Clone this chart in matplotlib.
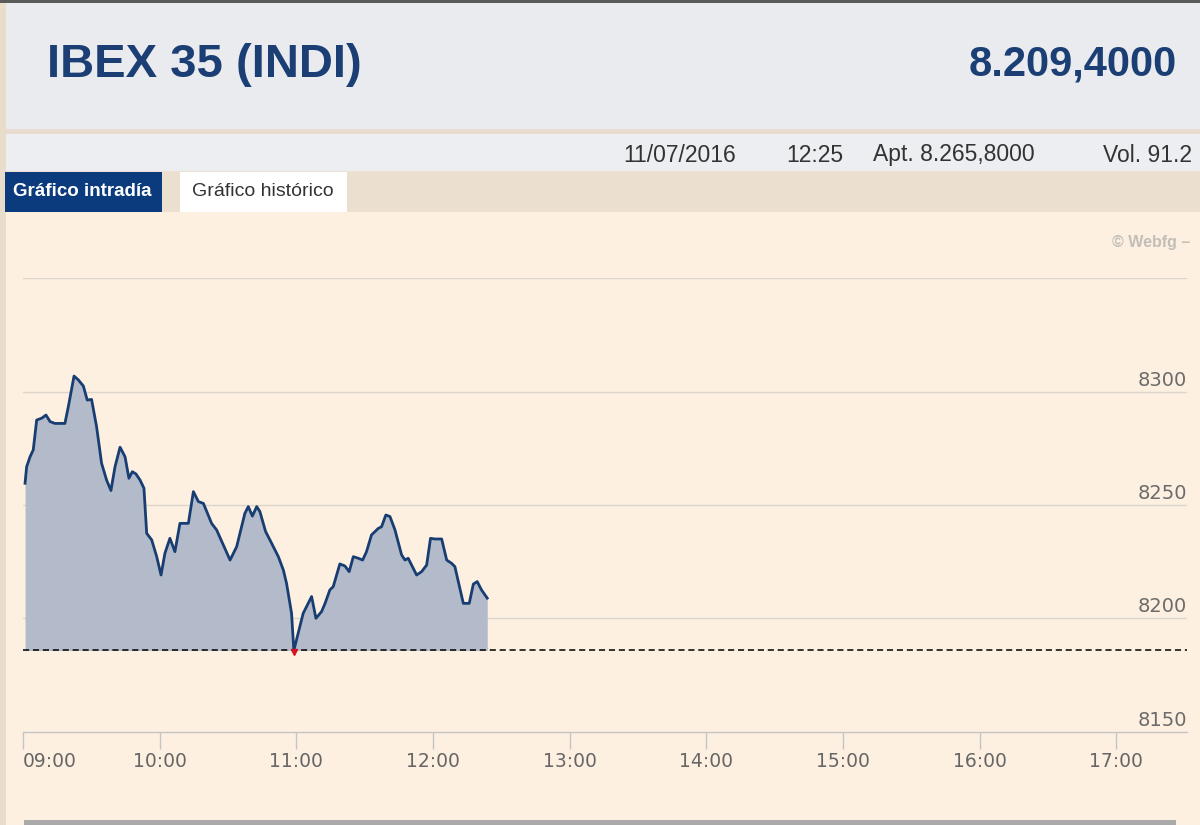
import matplotlib.pyplot as plt
from matplotlib.patches import Rectangle

# IBEX 35 intraday, 11/07/2016 -- minutes after 09:00 and index level
minutes = [0.9, 1.6, 3.1, 4.5, 6.0, 8.2, 10.1, 11.9, 14.0, 18.4,
           19.9, 22.4, 24.3, 26.5, 28.2, 30.1, 32.3, 34.5, 36.7, 38.6,
           40.4, 42.6, 44.8, 46.5, 48.0, 49.6, 51.4, 53.1, 54.3, 56.5,
           58.7, 60.6, 62.3, 64.5, 66.7, 68.9, 72.6, 74.8, 77.0, 79.2,
           82.8, 85.0, 90.9, 93.8, 97.4, 98.9, 100.7, 102.6, 104.0, 106.5,
           108.4, 112.1, 114.3, 115.7, 117.9, 118.9, 120.8, 123.0, 126.7, 128.6,
           131.1, 132.6, 134.7, 136.2, 139.1, 141.3, 143.2, 145.0, 147.2, 149.1,
           150.8, 153.0, 156.0, 157.4, 159.3, 161.1, 163.3, 166.2, 167.7, 169.1,
           172.8, 175.0, 177.2, 178.9, 180.8, 183.8, 186.0, 188.1, 189.6, 193.3,
           195.9, 197.7, 199.4, 201.3, 203.8]
prices = [8259.6, 8266.9, 8271.3, 8274.3, 8287.5, 8288.3, 8289.7, 8286.8, 8286.0, 8286.0,
          8293.4, 8306.9, 8305.2, 8302.5, 8296.3, 8296.6, 8284.6, 8268.4, 8261.0, 8256.4,
          8266.9, 8275.5, 8271.3, 8261.8, 8264.7, 8263.7, 8261.0, 8257.4, 8237.5, 8234.6,
          8227.2, 8219.1, 8228.7, 8235.3, 8229.4, 8241.9, 8241.9, 8255.9, 8251.5, 8250.7,
          8241.9, 8239.0, 8225.7, 8231.6, 8246.3, 8249.3, 8245.1, 8249.3, 8247.1, 8238.3,
          8234.6, 8227.2, 8221.3, 8215.4, 8202.2, 8185.8, 8193.4, 8202.2, 8209.6, 8200.0,
          8203.0, 8206.6, 8212.5, 8214.0, 8224.0, 8223.1, 8220.6, 8227.2, 8226.5, 8225.7,
          8229.4, 8236.8, 8239.7, 8240.4, 8245.6, 8244.9, 8239.0, 8228.0, 8225.7, 8226.5,
          8219.1, 8220.6, 8223.5, 8235.3, 8235.0, 8235.0, 8225.7, 8224.3, 8222.8, 8206.6,
          8206.6, 8215.1, 8216.2, 8212.5, 8208.9]

hour_ticks = [0, 60, 120, 180, 240, 300, 360, 420, 480]
hour_labels = ['09:00', '10:00', '11:00', '12:00', '13:00', '14:00', '15:00', '16:00', '17:00']
price_labels = [8150, 8200, 8250, 8300]
grid_levels = [8200, 8250, 8300, 8350]

title = 'IBEX 35 (INDI)'
last_price = '8.209,4000'
info = [('11/07/2016', 623), ('12:25', 786), ('Apt. 8.265,8000', 873), ('Vol. 91.2', 1103)]
tabs = ['Gráfico intradía', 'Gráfico histórico']

W, H = 1200, 825
NAVY = '#1b3e74'
SANS = ['Liberation Sans', 'DejaVu Sans']


def box(fig, x0, y0, x1, y1, color):
    # rectangle given in pixel coords, origin top-left
    fig.add_artist(Rectangle((x0 / W, 1 - y1 / H), (x1 - x0) / W, (y1 - y0) / H,
                             transform=fig.transFigure, facecolor=color,
                             edgecolor='none', zorder=0))


def label(fig, x, y, s, **kw):
    fig.text(x / W, 1 - y / H, s, va='center', **kw)


fig = plt.figure(figsize=(12, 8.25), dpi=100)
fig.patch.set_facecolor('#fdf0e0')

# page chrome
box(fig, 0, 0, 6, 825, '#e8dccb')
box(fig, 6, 3, 1200, 129, '#e9ebee')
box(fig, 6, 129, 1200, 134, '#e7dccf')
box(fig, 6, 134, 1200, 171, '#eceef1')
box(fig, 6, 171, 1200, 212, '#ebdfd0')
box(fig, 5, 172, 162, 212, '#0b3a7d')
box(fig, 180, 172, 347, 212, '#ffffff')
box(fig, 0, 0, 1200, 3, '#5a5a5a')
box(fig, 24, 820, 1176, 825, '#a9a9a9')

label(fig, 47, 65, title, fontsize=34, fontweight='bold', color=NAVY, family=SANS)
label(fig, 1177, 65, last_price, fontsize=30, fontweight='bold', color=NAVY,
      family=SANS, ha='right')
for s, x in info:
    label(fig, x, 155, s, fontsize=16.5, color='#333333', family=SANS)
label(fig, 13, 192, tabs[0], fontsize=13.5, fontweight='bold', color='white', family=SANS)
label(fig, 192, 192, tabs[1], fontsize=14, color='#333333', family=SANS)
label(fig, 1190, 243, '© Webfg –', fontsize=11.5, fontweight='bold', color='#c2beb8',
      family=SANS, ha='right')

# chart
y_top, y_bot = 278.4, 731.6
ax = fig.add_axes([23 / W, 1 - y_bot / H, (1187 - 23) / W, (y_bot - y_top) / H])
ax.set_facecolor('none')
ax.set_xlim(0, 511)
ax.set_ylim(8150, 8350)

for s in ['top', 'left', 'right']:
    ax.spines[s].set_visible(False)
ax.spines['bottom'].set_color('#c4c4c4')
ax.spines['bottom'].set_linewidth(1)

for g in grid_levels:
    ax.axhline(g, color='#dcd5cc', lw=1, zorder=1)

low = min(prices)
t_low = minutes[prices.index(low)]
ax.fill_between(minutes, prices, low, color='#b3bac9', lw=0, zorder=2)
ax.plot(minutes, prices, color='#173d72', lw=2, zorder=3)
ax.axhline(low, color='black', lw=1.1, ls=(0, (4, 2.5)), zorder=4)
ax.plot(t_low, low - 0.8, marker='v', color='#d3121c', ms=5, zorder=5)

ax.set_yticks([])
ax.set_xticks(hour_ticks)
ax.set_xticklabels(hour_labels)
ax.tick_params(axis='x', length=12, width=1, color='#c4c4c4', labelsize=13.5,
               labelcolor='#666666', pad=3)
ax.get_xticklabels()[0].set_ha('left')

for p in price_labels:
    ax.text(511, p + 0.8, str(p), ha='right', va='bottom', fontsize=14, color='#6b6b6b')

fig.savefig('out.png', dpi=100, facecolor=fig.get_facecolor())
